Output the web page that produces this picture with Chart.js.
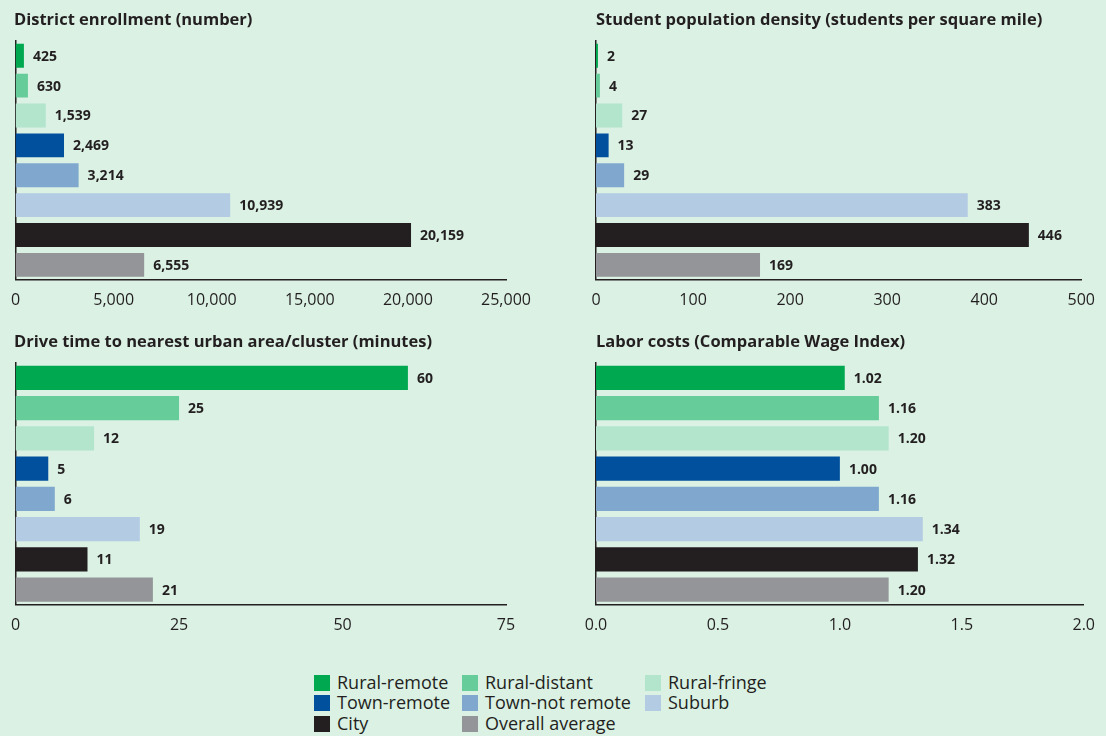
<!DOCTYPE html>
<html>
<head>
<meta charset="utf-8">
<script src="https://cdn.jsdelivr.net/npm/chart.js@4"></script>
<style>
  body { margin: 0; background: #daf1e4; width: 1106px; height: 736px; overflow: hidden; position: relative; font-family: "Open Sans", sans-serif; color: #231f20; }
  canvas { position: absolute; }
  #legend { position: absolute; left: 0; top: 0; }
  .item { position: absolute; font-size: 18px; line-height: 20px; white-space: nowrap; }
  .item span { display: inline-block; width: 16px; height: 16px; vertical-align: -2px; margin-right: 7px; }
</style>
</head>
<body>
<canvas id="enroll" width="553" height="331" style="left:0;top:0"></canvas>
<canvas id="density" width="553" height="331" style="left:553px;top:0"></canvas>
<canvas id="drive" width="553" height="332" style="left:0;top:322px"></canvas>
<canvas id="wage" width="553" height="332" style="left:553px;top:322px"></canvas>
<div id="legend"></div>
<script>
const categories = ["Rural-remote", "Rural-distant", "Rural-fringe", "Town-remote", "Town-not remote", "Suburb", "City", "Overall average"];
const colors = ["#00a94f", "#66cc99", "#b3e4cc", "#00509d", "#80a8cf", "#b3cbe3", "#231f20", "#939598"];

const enrollment = [425, 630, 1539, 2469, 3214, 10939, 20159, 6555];
const density = [2, 4, 27, 13, 29, 383, 446, 169];
const driveTime = [60, 25, 12, 5, 6, 19, 11, 21];
const wageIndex = [1.02, 1.16, 1.2, 1.0, 1.16, 1.34, 1.32, 1.2];

Chart.defaults.font.family = "'Open Sans', sans-serif";
Chart.defaults.color = "#231f20";

function makeChart(id, title, values, max, step, tickFmt, valFmt, pad) {
  const valueLabels = {
    id: "valueLabels",
    afterDatasetsDraw(chart) {
      const ctx = chart.ctx;
      const meta = chart.getDatasetMeta(0);
      ctx.save();
      ctx.font = "bold 14px 'Open Sans', sans-serif";
      ctx.fillStyle = "#231f20";
      ctx.textBaseline = "middle";
      meta.data.forEach((bar, i) => {
        ctx.fillText(valFmt(values[i]), bar.x + 9, bar.y + 1);
      });
      ctx.restore();
    },
  };

  return new Chart(document.getElementById(id), {
    type: "bar",
    data: {
      labels: categories,
      datasets: [
        {
          data: values,
          backgroundColor: colors,
          barPercentage: 0.8,
          categoryPercentage: 1,
        },
      ],
    },
    options: {
      indexAxis: "y",
      responsive: false,
      animation: false,
      layout: { padding: pad },
      plugins: {
        legend: { display: false },
        tooltip: { enabled: false },
        title: {
          display: true,
          text: title,
          align: "start",
          color: "#231f20",
          font: { size: 16.5, weight: "bold" },
          padding: { top: 10, bottom: 11 },
        },
      },
      scales: {
        x: {
          min: 0,
          max: max,
          grid: { display: false, drawTicks: false },
          border: { color: "#231f20", width: 1.5 },
          ticks: {
            stepSize: step,
            padding: 11,
            font: { size: 16 },
            color: "#231f20",
            maxRotation: 0,
            callback: (v) => tickFmt(v),
          },
        },
        y: {
          grid: { display: false, drawTicks: false },
          border: { color: "#231f20", width: 1.5 },
          ticks: { display: false },
          afterFit: (s) => { s.width = 0; },
        },
      },
    },
    plugins: [valueLabels],
  });
}

const comma = (v) => v.toLocaleString("en-US");
const plain = (v) => String(v);
const twoDec = (v) => v.toFixed(2);
const oneDec = (v) => v.toFixed(1);

makeChart("enroll", "District enrollment (number)", enrollment, 25000, 5000, comma, comma,
  { left: 14, right: 47, bottom: 10 });
makeChart("density", "Student population density (students per square mile)", density, 500, 100, plain, plain,
  { left: 43, right: 18, bottom: 10 });
makeChart("drive", "Drive time to nearest urban area/cluster (minutes)", driveTime, 75, 25, plain, plain,
  { left: 14, right: 47, bottom: 8 });
makeChart("wage", "Labor costs (Comparable Wage Index)", wageIndex, 2, 0.5, oneDec, twoDec,
  { left: 43, right: 18, bottom: 8 });

// legend, three columns like the original
const legend = document.getElementById("legend");
const colX = [314, 462, 645];
const rowY = [672, 692, 713];
categories.forEach((name, i) => {
  const div = document.createElement("div");
  div.className = "item";
  div.style.left = colX[i % 3] + "px";
  div.style.top = rowY[Math.floor(i / 3)] + "px";
  div.innerHTML = '<span style="background:' + colors[i] + '"></span>' + name;
  legend.appendChild(div);
});
</script>
</body>
</html>
